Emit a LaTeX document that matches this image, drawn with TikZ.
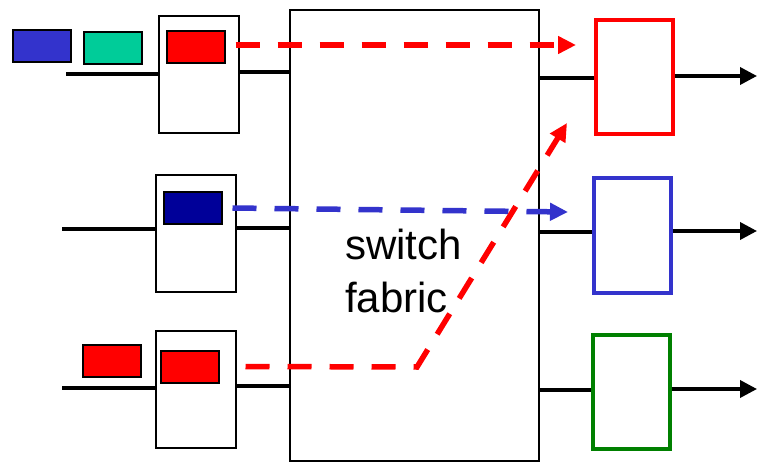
\documentclass[tikz,border=0pt]{standalone}
\usepackage{fontspec}
\setmainfont{Liberation Sans}
\usetikzlibrary{arrows.meta}
\definecolor{pblue}{HTML}{3333CC}
\definecolor{pteal}{HTML}{00CC99}
\definecolor{pred}{HTML}{FF0000}
\definecolor{pnavy}{HTML}{000099}
\definecolor{pgreen}{HTML}{008000}
\begin{document}
\begin{tikzpicture}[x=1pt,y=-1pt,
  portbox/.style={draw=black,line width=2pt,fill=white,inner sep=0pt,minimum width=80pt,minimum height=117pt},
  fabricbox/.style={draw=black,line width=2pt,inner sep=0pt,minimum width=249pt,minimum height=451pt},
  pkt/.style={draw=black,line width=2pt,inner sep=0pt,minimum width=58pt,minimum height=32pt},
  outbox/.style={line width=4pt,inner sep=0pt,minimum width=77pt,minimum height=114pt},
  wire/.style={line width=3.6pt},
  outwire/.style={line width=3.6pt,-{Triangle[length=17pt,width=17pt]}},
  flow/.style={line width=5.5pt,dash pattern=on 24pt off 18pt,-{Triangle[length=18pt,width=17pt]}}
]
\useasboundingbox (0,0) rectangle (757,462);
% switch fabric
\node[fabricbox] (fab) at (414.5,235.5) {};
\node[anchor=base west,inner sep=0pt,align=left,font=\fontsize{42}{52}\selectfont] (lbl) at (345,312) {switch\\fabric};
% input ports
\node[portbox] (p1) at (199,75) {};
\node[portbox] (p2) at (196,233.5) {};
\node[portbox] (p3) at (196,389.5) {};
% packets
\node[pkt,fill=pblue] (k1) at (41.5,46.5) {};
\node[pkt,fill=pteal] (k2) at (112.5,48.5) {};
\node[pkt,fill=pred] (k3) at (195.5,47.5) {};
\node[pkt,fill=pnavy] (k4) at (192.5,208) {};
\node[pkt,fill=pred] (k5) at (111.5,361) {};
\node[pkt,fill=pred] (k6) at (189.5,366.5) {};
% output ports
\node[outbox,draw=pred] (o1) at (634,77) {};
\node[outbox,draw=pblue] (o2) at (632,235.5) {};
\node[outbox,draw=pgreen] (o3) at (631,391.5) {};
% input wires
\coordinate (i1) at (66,74);
\coordinate (i2) at (62,229);
\coordinate (i3) at (62,388);
\draw[wire] (i1) -- (i1 -| p1.west);
\draw[wire] (i2) -- (i2 -| p2.west);
\draw[wire] (i3) -- (i3 -| p3.west);
\draw[wire] ([yshift=3pt]p1.east) -- ([yshift=3pt]p1.east -| fab.west);
\draw[wire] ([yshift=5.5pt]p2.east) -- ([yshift=5.5pt]p2.east -| fab.west);
\draw[wire] ([yshift=3.5pt]p3.east) -- ([yshift=3.5pt]p3.east -| fab.west);
% fabric to outputs
\draw[wire] ([yshift=-1pt]o1.west -| fab.east) -- ([yshift=-1pt]o1.west);
\draw[wire] ([yshift=3.5pt]o2.west -| fab.east) -- ([yshift=3.5pt]o2.west);
\draw[wire] ([yshift=1.5pt]o3.west -| fab.east) -- ([yshift=1.5pt]o3.west);
% outputs
\coordinate (e1) at (757,76);
\coordinate (e2) at (757,231);
\coordinate (e3) at (757,389);
\draw[outwire] (o1.east |- e1) -- (e1);
\draw[outwire] (o2.east |- e2) -- (e2);
\draw[outwire] (o3.east |- e3) -- (e3);
% flows
\coordinate (t1) at (576,45);
\coordinate (t2) at (568,212);
\coordinate (t3) at (567,123);
\coordinate (c3) at (417,367);
\draw[flow,pred] (k3.east |- t1) ++(10,0) -- (t1);
\draw[flow,pblue] ([xshift=10pt]k4.east) -- (t2);
\draw[flow,pred] ([xshift=26pt]k6.east) -- (c3) -- (t3);
\end{tikzpicture}
\end{document}
